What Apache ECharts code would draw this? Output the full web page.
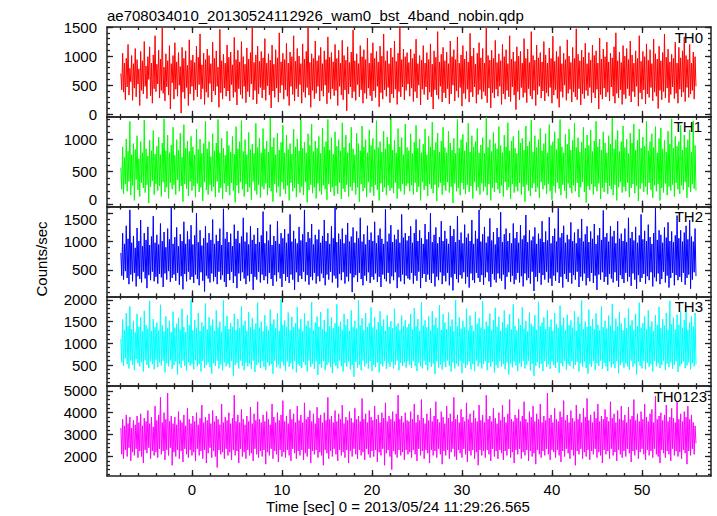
<!DOCTYPE html>
<html><head><meta charset="utf-8">
<script src="https://cdn.jsdelivr.net/npm/echarts@6/dist/echarts.min.js"></script>
<style>html,body{margin:0;padding:0;background:#fff}#c{width:717px;height:516px}</style>
</head><body><div id="c"></div>
<script>
const TITLE = 'ae708034010_20130524112926_wam0_bst_4band_nobin.qdp';
const X_LABEL = 'Time [sec] 0 = 2013/05/24 11:29:26.565';
const Y_LABEL = 'Counts/sec';
const T_START = -7.9, T_STEP = 0.1;
const panelNames = ['TH0', 'TH1', 'TH2', 'TH3', 'TH0123'];
const xTickLabels = [0, 10, 20, 30, 40, 50];
const yTicks_TH0 = [0, 500, 1000, 1500];
const yTicks_TH1 = [0, 500, 1000];
const yTicks_TH2 = [500, 1000, 1500];
const yTicks_TH3 = [500, 1000, 1500, 2000];
const yTicks_TH0123 = [2000, 3000, 4000, 5000];

const TH0 = [
700,420,1050,380,880,250,960,470,1200,330,790,560,1010,240,870,450,1130,300,940,520,
780,150,1080,410,920,350,1250,480,830,270,990,600,1160,320,880,190,1020,440,1350,390,
860,520,1100,280,950,410,1490,360,810,230,1040,470,920,330,1180,90,870,540,1010,260,
1230,430,900,310,1060,500,820,20,1150,380,960,270,1090,460,840,150,1280,350,930,480,
1020,240,890,420,1170,300,980,510,1380,260,850,440,1050,170,940,380,1120,290,1010,530,
870,210,1240,400,960,330,1090,480,810,120,1460,370,920,260,1030,450,880,310,1190,400,
980,230,1070,510,850,290,1320,380,940,160,1100,440,900,340,1250,270,990,480,860,200,
1140,390,950,300,1060,520,1490,250,890,410,1020,180,1170,350,910,460,1080,280,970,420,
1300,240,880,490,1040,330,930,110,1190,400,860,290,1110,450,970,210,1400,370,900,500,
1050,260,940,420,1220,310,880,150,1070,480,990,340,1350,230,910,440,1130,300,1000,510,
870,190,1210,380,950,290,1080,460,1500,330,890,120,1040,410,960,270,1260,360,920,480,
1010,230,1150,400,870,310,1090,500,940,180,1330,370,980,260,1060,440,900,320,1200,410,
960,150,1100,480,880,330,1270,250,1010,420,930,60,1160,350,890,470,1070,280,1450,390,
920,240,1040,510,870,300,1180,420,990,190,1110,360,940,270,1310,450,880,320,1050,230,
1230,400,960,290,1080,480,900,130,1170,370,1000,260,1380,420,920,310,1090,460,870,200,
1140,350,980,280,1260,430,910,170,1050,390,1500,300,940,470,1120,250,990,410,1060,520,
890,310,1120,450,960,220,1040,390,1290,280,870,500,1010,160,930,430,1180,340,880,470,
1060,250,940,380,1210,300,860,90,1090,420,980,330,1420,260,900,480,1030,210,1150,370,
920,280,1070,440,870,180,1260,350,990,500,1110,230,940,400,1330,290,880,460,1020,140,
1180,360,950,270,1080,430,900,210,1390,380,1000,300,1140,470,860,190,1050,340,1230,420,
970,260,1130,390,880,320,1480,200,1010,450,930,110,1100,370,960,280,1270,430,890,310,
1040,480,920,170,1200,350,990,260,1110,410,870,300,1350,220,950,470,1070,330,910,80,
1160,390,1000,250,1080,460,880,290,1300,370,960,200,1120,440,890,320,1420,260,1010,410,
930,150,1190,340,970,480,1060,280,900,400,1250,230,1020,370,880,310,1140,460,960,190,
1340,330,910,420,1080,270,990,120,1170,390,870,290,1050,500,940,240,1280,360,1000,430,
890,210,1150,380,960,300,1470,250,1030,440,920,160,1100,350,980,270,1220,410,870,320,
1060,460,930,200,1190,370,1010,280,1090,430,880,90,1310,340,950,260,1120,450,990,300,
1240,380,900,230,1050,470,970,310,1160,190,1400,360,920,280,1070,420,890,170,1180,340,
1000,270,1130,440,940,320,1260,210,1020,390,880,300,1090,480,960,140,1350,370,910,260,
1080,420,990,180,1210,350,930,290,1110,460,870,230,1290,380,1040,310,950,100,1170,410,
920,250,1060,390,1380,280,980,450,1120,200,900,340,1030,470,960,270,1240,360,880,190,
1150,430,970,300,1090,380,1330,220,1010,460,940,290,1200,350,880,410,1070,260,990,480
];
const TH1 = [
560,230,880,160,720,310,1000,200,810,350,1270,140,760,290,930,60,840,380,1050,220,
700,120,960,330,790,250,1290,180,850,300,740,20,980,270,820,360,1130,150,770,310,
890,210,1030,280,760,120,940,340,1310,190,820,260,1060,90,790,330,910,230,1180,300,
750,150,990,370,830,200,1090,280,720,40,1220,310,860,240,970,130,810,350,1040,210,
880,280,760,110,1150,320,840,190,1000,260,780,50,930,340,1270,220,850,150,960,300,
730,200,1080,270,820,110,940,350,1300,180,790,250,1010,80,860,320,750,190,1120,280,
900,140,800,330,1040,210,770,30,1190,290,850,170,960,340,1280,230,810,120,990,310,
760,190,1100,260,840,70,920,350,780,210,1240,150,870,300,1010,100,790,270,1160,230,
850,320,970,140,800,250,1320,200,880,40,1020,310,760,180,1090,270,830,120,950,340,
1210,230,790,160,1060,290,840,60,930,330,770,200,1150,250,880,110,1000,310,820,180,
1290,270,860,140,950,340,790,30,1080,220,900,300,1230,170,810,260,970,90,860,320,
1040,200,780,150,1170,290,880,230,960,70,1300,310,830,190,1020,260,770,130,1110,280,
890,160,990,330,820,80,1250,240,870,190,1060,300,790,120,940,270,1180,210,850,330,
760,150,1090,260,930,40,820,310,1200,200,880,250,990,110,790,340,1140,180,900,270,
1010,130,840,300,1280,220,870,60,960,320,800,190,1120,260,850,140,1030,290,920,210,
1310,250,830,170,980,330,790,90,1160,240,880,200,1020,310,760,150,1230,280,870,320,
820,200,1080,290,780,150,950,330,1210,190,860,270,1000,60,790,340,920,220,1150,280,
760,130,1040,310,880,240,1260,170,830,300,950,50,1090,260,800,330,970,150,1180,290,
870,210,790,340,1120,180,940,270,830,20,1010,320,780,200,1300,250,860,140,990,330,
1070,230,820,160,950,300,1240,190,800,280,1050,90,880,340,960,210,1160,260,790,150,
910,320,1020,200,780,270,1330,140,870,310,990,60,810,250,1100,190,930,330,850,230,
1190,170,900,290,790,120,1060,340,880,220,1250,260,820,80,970,310,1040,180,860,270,
780,200,1130,330,940,150,1010,270,830,40,1200,300,890,210,960,130,1290,250,800,320,
1050,190,870,260,990,100,1160,340,820,230,930,290,1080,160,790,310,1220,200,900,70,
960,280,1110,180,840,330,1010,240,1300,140,880,300,790,210,1070,90,920,320,1150,250,
830,170,980,290,1240,200,870,330,1020,110,800,260,950,340,1180,190,860,30,1060,280,
900,220,1140,310,810,150,970,270,1270,200,880,320,1000,80,830,250,1110,190,940,330,
790,160,1050,280,920,230,1320,140,850,300,990,60,1130,260,810,340,960,180,1200,270,
870,200,1000,330,780,110,1090,250,940,310,1230,170,830,280,980,50,1150,240,860,320,
1030,190,890,270,1270,150,820,330,960,220,1080,100,870,290,1190,200,790,310,1010,60,
1170,250,850,180,980,320,800,140,1120,270,920,210,1310,300,860,120,1040,330,890,230,
960,160,1210,290,830,220,1060,340,870,100,990,260,1140,190,800,310,1280,240,900,210
];
const TH2 = [
800,400,1150,330,960,480,1280,360,1050,250,1560,420,980,300,1100,450,890,210,1240,390,
1010,340,1380,280,920,470,1150,350,1030,180,1260,410,940,320,1090,470,1450,300,980,380,
1120,260,950,430,1320,370,1010,200,1170,440,900,330,1230,480,1040,290,1600,360,960,420,
1080,310,1250,450,920,240,1130,390,1010,160,1350,430,960,300,1180,470,1040,330,1290,380,
950,270,1110,420,1500,340,990,230,1200,460,930,310,1060,120,1270,400,980,350,1150,280,
1030,440,1390,300,960,380,1120,250,1010,470,1230,330,940,410,1580,290,1050,200,1170,430,
990,320,1140,470,920,270,1300,390,1050,180,1190,440,970,310,1090,460,1420,350,1000,250,
1160,400,950,300,1270,430,1030,150,1120,380,960,330,1240,470,990,280,1110,420,1530,320,
970,390,1180,260,1020,450,1300,340,940,220,1100,410,1010,300,1360,460,960,350,1150,200,
1060,430,1220,310,980,380,1140,270,1480,420,1000,330,1190,150,1050,460,970,290,1260,400,
1020,340,1130,470,1560,300,990,410,1170,240,1060,380,1310,320,950,450,1120,260,1040,390,
1210,300,980,440,1100,360,1380,230,1010,420,1150,330,960,470,1270,280,1060,400,1600,350,
990,190,1140,430,1040,320,1230,460,970,260,1120,380,1330,300,1000,440,1090,110,1250,370,
980,410,1180,290,1060,450,1420,340,1000,230,1130,400,950,310,1280,460,1030,270,1160,380,
1010,330,1350,440,970,290,1110,380,1230,200,1050,420,960,340,1570,300,1000,450,1140,260,
1290,390,990,320,1120,460,1040,180,1210,370,980,300,1480,420,1070,250,1150,400,1020,350,
1100,330,1270,450,980,260,1150,400,1390,310,1010,470,1200,180,1060,360,960,430,1310,290,
1040,420,1170,330,1500,270,990,440,1120,210,1250,380,970,320,1080,460,1360,250,1010,400,
1190,300,1050,450,960,230,1280,370,1100,140,1220,430,990,340,1450,280,1030,410,1160,350,
970,460,1300,260,1070,380,1140,190,1010,440,1380,320,960,270,1190,450,1050,360,1560,290,
1000,410,1130,240,1260,370,980,460,1090,300,1410,200,1020,430,1170,330,950,280,1240,440,
1080,350,1520,310,990,420,1130,160,1230,380,1010,460,1150,290,970,400,1320,250,1060,330,
1170,450,980,280,1290,390,1040,210,1110,440,1470,320,990,360,1200,260,1020,470,1090,130,
1250,380,960,300,1140,450,1050,240,1360,410,990,330,1180,470,1020,280,1430,350,970,220,
1100,400,1230,310,1000,460,1590,270,1070,380,1150,190,1280,430,980,340,1120,290,1040,450,
1340,260,1010,410,1160,330,970,470,1220,200,1060,380,1400,310,1000,440,1130,230,1270,360,
990,300,1180,450,1050,270,1310,400,960,150,1110,420,1240,330,1030,460,1550,290,1080,380,
1150,240,1000,430,1270,350,1090,280,1190,460,970,310,1360,200,1050,410,1140,340,1010,270,
1230,450,990,300,1420,380,1060,220,1170,440,1020,330,1260,170,980,410,1110,290,1480,360,
1040,430,1190,260,1010,390,1300,320,1080,460,960,210,1150,370,1590,300,1030,440,1200,250,
1120,340,980,470,1250,280,1070,400,1340,190,1010,360,1180,450,990,230,1110,410,1460,320,
1060,380,1200,290,1000,450,1160,240,1280,360,1040,420,1380,170,1090,330,1000,460,1230,390
];
const TH3 = [
1100,560,1550,480,1300,650,1700,520,1400,420,1850,600,1330,500,1520,380,1250,630,1680,540,
1380,470,1600,560,1280,350,1750,610,1420,500,1340,430,1980,580,1290,520,1560,400,1370,620,
1480,450,1300,560,1890,490,1410,600,1270,330,1620,540,1350,470,1520,610,1260,410,1730,500,
1360,580,1450,280,1590,520,1310,440,1800,600,1380,480,1260,370,1650,560,1420,490,2000,530,
1300,400,1540,610,1350,470,1700,520,1280,350,1480,590,1390,430,1920,500,1320,560,1600,450,
1410,300,1550,540,1290,480,1760,600,1360,420,1500,510,1270,380,1990,560,1400,470,1630,530,
1330,440,1470,590,1380,250,1680,500,1300,550,1560,420,1350,600,1850,480,1410,380,1520,560,
1290,470,1720,530,1370,410,1580,600,1320,340,1460,500,1940,550,1360,430,1500,590,1280,460,
1650,380,1400,560,1310,480,1780,520,1440,300,1550,600,1350,450,1690,510,1290,420,2010,570,
1420,490,1530,360,1380,580,1710,460,1300,540,1610,400,1370,590,1470,330,1840,520,1340,480,
1560,430,1290,570,1690,500,1410,350,1520,600,1360,460,1950,530,1300,410,1480,580,1620,270,
1380,520,1720,440,1330,590,1540,380,1270,500,1800,560,1400,450,1600,310,1350,540,1460,480,
1900,420,1390,600,1500,470,1310,350,1680,550,1420,460,1560,580,1290,400,1760,500,1370,230,
1520,570,1340,440,1990,510,1410,380,1580,600,1300,470,1700,530,1380,420,1470,590,1830,360,
1360,500,1600,450,1320,560,1490,330,1740,520,1400,470,1550,590,1290,410,1650,540,1380,460,
1510,570,1350,420,1800,500,1390,600,1460,380,1300,550,1640,480,1400,560,1530,440,1370,590,
1450,510,1680,430,1320,590,1810,480,1390,360,1560,550,1290,470,1950,420,1410,600,1530,500,
1370,380,1620,560,1300,460,1740,530,1420,290,1590,580,1350,440,1880,510,1310,390,1670,570,
1480,450,1330,600,1710,480,1400,350,1550,560,1280,420,2000,530,1390,470,1600,590,1340,310,
1520,540,1370,430,1800,500,1300,580,1640,400,1410,520,1290,360,1730,600,1450,470,1580,550,
1360,420,1970,530,1330,590,1500,380,1400,550,1690,460,1310,570,1540,330,1820,500,1380,440,
1610,590,1290,470,1490,520,1760,400,1350,560,1440,280,1670,530,1320,450,1900,580,1400,490,
1300,360,1570,540,1420,460,1830,590,1340,420,1520,510,1280,600,1710,380,1450,530,1390,250,
1650,480,1310,570,1960,440,1400,530,1480,360,1600,590,1330,460,1760,520,1380,410,1550,580,
1290,500,1700,430,1440,560,1350,320,1870,540,1410,470,1590,600,1300,390,1660,520,1420,480,
1530,590,1360,410,1740,500,1290,570,1610,350,1450,540,1990,460,1330,580,1500,430,1380,300,
1780,520,1400,460,1560,590,1320,380,1690,540,1430,480,1300,600,1850,410,1370,550,1520,470,
1340,360,1640,580,1410,450,1910,520,1290,430,1570,590,1390,310,1720,500,1460,560,1300,440,
1590,540,1350,470,1800,390,1420,600,1530,460,1310,530,1680,280,1400,570,1940,480,1360,420,
1470,590,1620,400,1330,550,1760,460,1380,520,1500,350,1290,590,1650,470,1420,540,1840,430,
1350,500,1560,600,1410,380,1700,530,1300,450,1980,560,1440,410,1590,500,1320,590,1660,340,
1430,470,1730,520,1360,580,1540,430,1870,490,1310,560,1480,400,1620,540,1390,470,1700,510
];
const TH0123 = [
3300,2100,3700,1900,3400,2300,3900,2000,3500,2400,3800,1800,3300,2200,3650,2050,3450,2350,3850,1950,
3550,2250,3950,2000,3400,1700,3750,2300,3600,2150,4100,2400,3500,1900,3800,2250,3350,2050,4300,2200,
3650,1950,3900,2350,4700,2100,3550,2250,4000,1850,3700,2300,4900,2050,3600,2400,3850,1600,3500,2200,
3800,2000,3450,2300,4050,1900,3650,2250,3550,1750,3900,2350,3400,2100,4200,1950,3700,2300,3500,2050,
3850,2200,3600,1800,4000,2350,3450,2050,3750,2250,4350,1900,3550,2300,3800,1700,3650,2150,3950,2400,
3500,1950,4100,2250,3600,2000,3850,1500,3700,2300,3450,2100,4400,2200,3550,1900,3800,2350,3650,2050,
4000,2200,3500,1850,3750,2300,4800,2050,3600,2250,3900,1700,3550,2350,4150,2000,3700,2200,3450,1900,
3850,2300,3600,2050,4250,2150,3500,1800,3950,2350,3650,2100,4500,1950,3700,2250,3550,2000,3900,2300,
3600,1650,4050,2200,3700,2050,3450,2350,4400,1900,3800,2250,3550,2100,4000,1750,3650,2300,3900,2000,
4550,2200,3600,1950,3850,2300,3500,2050,4150,1800,3700,2350,3950,2150,3550,1900,4300,2250,3650,2050,
3900,2300,3550,1850,4450,2150,3700,2000,3800,2350,4100,1700,3600,2250,3950,2100,3500,2300,4250,1950,
3750,2200,3900,2050,3550,1600,4000,2300,3650,2150,4700,1900,3700,2250,3850,2000,3550,2350,4100,2100,
3600,1800,3950,2300,3700,2050,4350,2200,3500,1950,3800,2300,3650,1700,4050,2250,3750,2000,3550,2350,
4200,2100,3700,1900,3850,2300,3600,2050,4650,2200,3700,1850,3950,2350,3550,2100,4100,1950,3800,2250,
3650,2000,4300,2300,3700,1750,3900,2200,3550,2050,4000,2350,3750,1600,4450,2150,3600,2300,3850,2000,
3700,1400,4050,2250,3600,2100,3950,1950,4800,2300,3700,2050,3850,2200,3550,1850,4000,2300,3650,2100,
3600,2200,4050,1950,3700,2300,4400,2100,3550,1800,3900,2350,3650,2050,4600,2250,3750,1900,3500,2300,
3950,2150,3650,1700,4200,2300,3600,2050,3850,2250,4500,1950,3700,2350,3550,2100,4050,1650,3800,2250,
3500,2050,4300,2300,3750,1900,3950,2200,3600,2350,4700,2000,3700,1850,3900,2300,3550,2150,4150,1950,
3800,2350,3600,2100,4450,1750,3700,2250,3950,2050,3550,2300,4100,1900,3750,2200,3600,1600,4350,2300,
3650,2050,3900,2250,3550,1950,4800,2300,3700,2100,3850,1800,3600,2350,4200,2000,3750,2250,3500,1900,
4000,2300,3650,2150,4350,1850,3800,2250,3550,2050,3950,2350,4600,1950,3700,2200,3600,1700,3900,2300,
3750,2100,4150,2350,3600,1900,3850,2200,4500,2050,3700,2300,3550,1800,4050,2250,3800,2000,4300,2150,
3600,1650,3950,2300,3700,2100,4400,1950,3550,2250,3850,2050,3650,2350,4900,2100,3750,1850,3900,2300,
3550,2200,4200,1950,3700,2300,3600,2050,4050,1750,3800,2250,4550,2000,3650,2350,3900,2150,3550,1900,
4100,2300,3750,2050,3600,1600,4350,2250,3700,2100,3950,2350,3550,1900,4200,2200,3800,2000,4650,2300,
3650,1850,3900,2250,3550,2100,4050,2350,3750,1950,4400,2200,3600,2050,3850,1700,3700,2300,4150,2100,
3800,2250,3600,1900,4500,2350,3750,2050,3950,2200,3550,1800,4100,2300,3700,2100,4300,1950,3650,2250,
3900,2000,3550,2350,4250,2150,3700,1750,3850,2250,4600,2050,3650,2300,3950,1900,3600,2200,4050,2350,
3700,2100,4400,1850,3800,2300,3600,2050,3950,2250,4150,1950,3550,2350,4750,2100,3700,2000,3850,1700,
4000,2300,3650,2150,3900,1950,4350,2250,3600,2100,3800,1800,4200,2350,3750,2050,3550,2250,4500,2000,
3700,2200,3950,1900,3600,2300,4050,2150,3800,1650,4300,2250,3700,2050,3900,2350,3550,2100,3400,2600
];

// ---- layout / style ----
const FONT = "'Liberation Sans', Arial, Helvetica, sans-serif";
const X_MIN = -9.44, X_MAX = 57.67;
const GRID_LEFT = 107, GRID_RIGHT = 6, TOP = 27, BOTTOM = 476;
const H = (BOTTOM - TOP) / 5;
const AXIS_COLOR = '#222';
const panels = [
  { name: panelNames[0], values: TH0, color: '#ff0000', yMin: -43, yMax: 1500, yLabels: yTicks_TH0, yMinor: 100, labelX: 703, nudge: {} },
  { name: panelNames[1], values: TH1, color: '#00ff00', yMin: -35, yMax: 1340, yLabels: yTicks_TH1, yMinor: 100, labelX: 702, nudge: { 0: 'up' } },
  { name: panelNames[2], values: TH2, color: '#0000ff', yMin: 34, yMax: 1618, yLabels: yTicks_TH2, yMinor: 100, labelX: 703, nudge: { 1500: 'down' } },
  { name: panelNames[3], values: TH3, color: '#00ffff', yMin: 11, yMax: 2083, yLabels: yTicks_TH3, yMinor: 100, labelX: 703, nudge: {} },
  { name: panelNames[4], values: TH0123, color: '#ff00ff', yMin: 1110, yMax: 5210, yLabels: yTicks_TH0123, yMinor: 200, labelX: 707, nudge: {} }
];

function stepValues(lo, hi, step) {
  const out = [];
  for (let v = Math.ceil(lo / step) * step; v <= hi + 1e-9; v += step) out.push(v);
  return out;
}
const xMinor = stepValues(X_MIN, X_MAX, 2);
const xMajor = stepValues(X_MIN, X_MAX, 10);
const RICH = {
  up: { fontFamily: FONT, fontSize: 15, color: '#000', padding: [0, 0, 10, 0] },
  down: { fontFamily: FONT, fontSize: 15, color: '#000', padding: [12, 0, 0, 0] }
};

const grids = [], xAxes = [], yAxes = [], series = [], graphics = [];
function axisCommon(len, vals, showLine, labelVals, isX, nudge) {
  return {
    axisLine: { show: showLine, onZero: false, lineStyle: { color: AXIS_COLOR, width: 1.5 } },
    axisTick: { show: true, inside: true, length: len, customValues: vals, lineStyle: { color: AXIS_COLOR, width: 1.3 } },
    axisLabel: labelVals ? {
      show: true, customValues: labelVals, color: '#000', fontFamily: FONT, fontSize: 15, margin: isX ? 6 : 10,
      formatter: v => (nudge && nudge[v]) ? '{' + nudge[v] + '|' + v + '}' : String(v),
      rich: RICH
    } : { show: false },
    splitLine: { show: false },
    minorTick: { show: false }
  };
}
panels.forEach((p, i) => {
  grids.push({ left: GRID_LEFT, right: GRID_RIGHT, top: TOP + i * H, height: H });
  const last = i === panels.length - 1;
  const xBase = xAxes.length;
  [['bottom', 6, xMajor, true, last ? xTickLabels : null],
   ['bottom', 3, xMinor, false, null],
   ['top', 6, xMajor, true, null],
   ['top', 3, xMinor, false, null]].forEach(([pos, len, vals, line, labs]) => {
    xAxes.push(Object.assign({ type: 'value', gridIndex: i, position: pos, min: X_MIN, max: X_MAX }, axisCommon(len, vals, line, labs, true, null)));
  });
  const yBase = yAxes.length;
  const yMajor = stepValues(p.yMin, p.yMax, 500 * (p.yMinor / 100));
  const yMin = stepValues(p.yMin, p.yMax, p.yMinor);
  [['left', 6, yMajor, true, p.yLabels],
   ['left', 3, yMin, false, null],
   ['right', 6, yMajor, true, null],
   ['right', 3, yMin, false, null]].forEach(([pos, len, vals, line, labs]) => {
    yAxes.push(Object.assign({ type: 'value', gridIndex: i, position: pos, min: p.yMin, max: p.yMax }, axisCommon(len, vals, line, labs, false, p.nudge)));
  });
  series.push({
    type: 'line', name: p.name, xAxisIndex: xBase, yAxisIndex: yBase,
    data: p.values.map((v, k) => [T_START + k * T_STEP, v]),
    showSymbol: false, symbol: 'none', sampling: null,
    lineStyle: { color: p.color, width: 1 }, itemStyle: { color: p.color },
    z: 1, silent: true
  });
  graphics.push({
    type: 'text', x: p.labelX, y: TOP + i * H + 10,
    style: { text: p.name, font: '15px ' + FONT, fill: '#000', align: 'right', verticalAlign: 'middle', textAlign: 'right', textVerticalAlign: 'middle' },
    z: 100
  });
});
graphics.push({ type: 'text', x: 107, y: 15, style: { text: TITLE, font: '15px ' + FONT, fill: '#000', align: 'left', verticalAlign: 'middle', textAlign: 'left', textVerticalAlign: 'middle' } });
graphics.push({ type: 'text', x: 398, y: 506, style: { text: X_LABEL, font: '15px ' + FONT, fill: '#000', align: 'center', verticalAlign: 'middle', textAlign: 'center', textVerticalAlign: 'middle' } });
graphics.push({ type: 'text', x: 41, y: 259, rotation: Math.PI / 2, style: { text: Y_LABEL, font: '15px ' + FONT, fill: '#000', align: 'center', verticalAlign: 'middle', textAlign: 'center', textVerticalAlign: 'middle' } });

const chart = echarts.init(document.getElementById('c'), null, { renderer: 'svg' });
chart.setOption({
  animation: false,
  backgroundColor: '#fff',
  grid: grids, xAxis: xAxes, yAxis: yAxes, series: series, graphic: graphics
});
</script>
</body></html>
